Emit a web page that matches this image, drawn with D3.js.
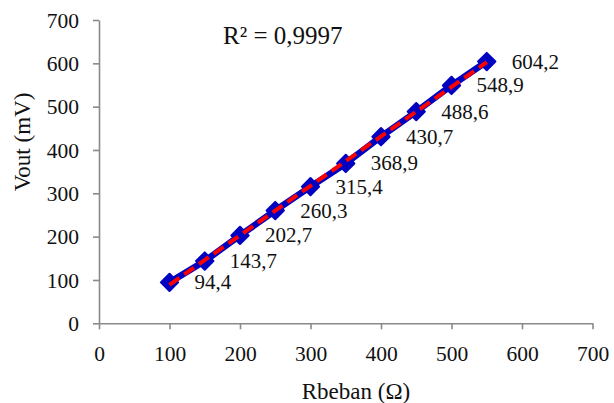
<!DOCTYPE html>
<html>
<head>
<meta charset="utf-8">
<script src="https://cdn.jsdelivr.net/npm/d3@7"></script>
<style>
  body { margin: 0; background: #fff; }
  svg { display: block; }
  svg text { font-family: 'Liberation Serif', 'DejaVu Serif', serif; fill: #111; }
</style>
</head>
<body>
<svg id="chart" width="614" height="403"></svg>
<script>
"use strict";

// load resistance (ohm) and measured output (mV)
var rbeban = [100, 150, 200, 250, 300, 350, 400, 450, 500, 550];
var vout = [94.4, 143.7, 202.7, 260.3, 315.4, 368.9, 430.7, 488.6, 548.9, 604.2];
var xTicks = [0, 100, 200, 300, 400, 500, 600, 700];
var yTicks = [0, 100, 200, 300, 400, 500, 600, 700];
var r2Label = "R² = 0,9997";

var FONT = "'Liberation Serif', 'DejaVu Serif', serif";

var svg = d3.select("#chart");

var x = d3.scaleLinear().domain([0, 700]).range([99, 592.5]);
var y = d3.scaleLinear().domain([0, 700]).range([323.3, 20]);

function styleAxis(g) {
	g.attr("font-family", FONT);
	g.selectAll(".domain, .tick line").attr("stroke", "#8a8a8a").attr("stroke-width", 1.6);
	g.selectAll(".tick text").attr("font-size", 21.5).attr("fill", "#111")
		.style("font-family", FONT);
}

// axes
var gx = svg.append("g")
	.attr("transform", "translate(0," + y(0) + ")")
	.call(d3.axisBottom(x).tickValues(xTicks).tickFormat(d3.format("d"))
		.tickSize(6).tickSizeOuter(0).tickPadding(17));
styleAxis(gx);
gx.selectAll(".tick text").attr("dy", "0.68em");

var gy = svg.append("g")
	.attr("transform", "translate(" + x(0) + ",0)")
	.call(d3.axisLeft(y).tickValues(yTicks).tickFormat(d3.format("d"))
		.tickSize(6).tickSizeOuter(0).tickPadding(14));
styleAxis(gy);
gy.selectAll(".tick text").attr("dy", "0.34em");

// axis titles
svg.append("text")
	.attr("text-anchor", "middle")
	.attr("font-size", 23)
	.style("font-family", FONT)
	.attr("x", 356)
	.attr("y", 399)
	.text("Rbeban (Ω)");

svg.append("text")
	.attr("text-anchor", "middle")
	.attr("font-size", 23)
	.style("font-family", FONT)
	.attr("transform", "translate(30,142) rotate(-90)")
	.text("Vout (mV)");

var pts = rbeban.map(function(d, i) { return [d, vout[i]]; });

// data series
svg.append("path")
	.datum(pts)
	.attr("fill", "none")
	.attr("stroke", "#0000c0")
	.attr("stroke-width", 6.5)
	.attr("stroke-linejoin", "round")
	.attr("d", d3.line().x(function(d) { return x(d[0]); }).y(function(d) { return y(d[1]); }));

svg.append("g").selectAll("path")
	.data(pts)
	.join("path")
	.attr("fill", "#0000c0")
	.attr("stroke", "#0000c0")
	.attr("stroke-width", 2)
	.attr("stroke-linejoin", "round")
	.attr("transform", function(d) {
		return "translate(" + x(d[0]) + "," + y(d[1]) + ") rotate(45)";
	})
	.attr("d", d3.symbol().type(d3.symbolSquare).size(150));

// linear trendline (least squares over the data)
var n = pts.length;
var mx = d3.mean(rbeban), my = d3.mean(vout);
var sxy = d3.sum(pts, function(d) { return (d[0] - mx) * (d[1] - my); });
var sxx = d3.sum(rbeban, function(d) { return (d - mx) * (d - mx); });
var slope = sxy / sxx, icept = my - slope * mx;
var trend = [rbeban[0], rbeban[n - 1]].map(function(d) { return [d, icept + slope * d]; });

svg.append("path")
	.datum(trend)
	.attr("fill", "none")
	.attr("stroke", "#ff0000")
	.attr("stroke-width", 4)
	.attr("stroke-dasharray", "12,6")
	.attr("d", d3.line().x(function(d) { return x(d[0]); }).y(function(d) { return y(d[1]); }));

// value labels, right of each point
svg.append("g").selectAll("text")
	.data(pts)
	.join("text")
	.attr("font-size", 21)
	.style("font-family", FONT)
	.attr("x", function(d) { return x(d[0]) + 25; })
	.attr("y", function(d) { return y(d[1]) + 7; })
	.text(function(d) { return d3.format(".1f")(d[1]).replace(".", ","); });

// R squared
svg.append("text")
	.attr("font-size", 25)
	.style("font-family", FONT)
	.attr("x", 223)
	.attr("y", 44)
	.text(r2Label);
</script>
</body>
</html>
